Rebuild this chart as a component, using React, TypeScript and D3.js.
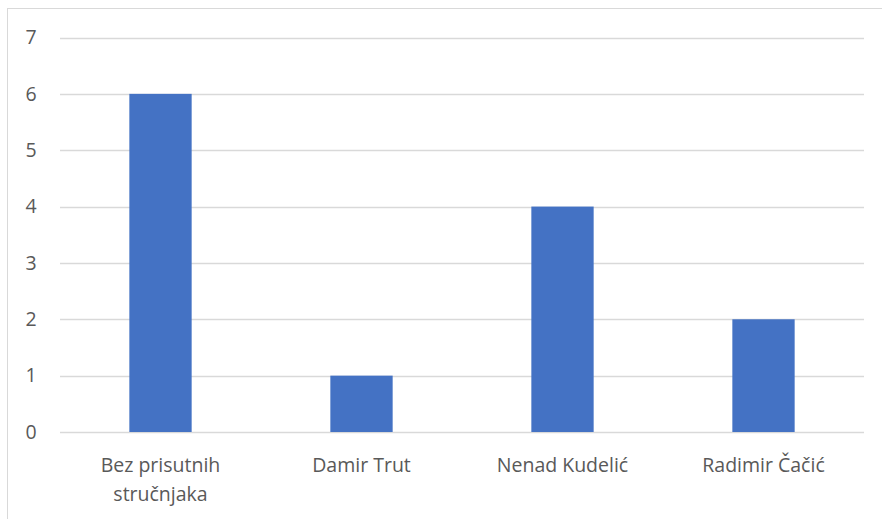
import React, { useEffect, useRef } from "react";
import * as d3 from "d3";

const categories = ["Bez prisutnih stručnjaka", "Damir Trut", "Nenad Kudelić", "Radimir Čačić"];
const categoryLines = [["Bez prisutnih", "stručnjaka"], ["Damir Trut"], ["Nenad Kudelić"], ["Radimir Čačić"]];
const values = [6, 1, 4, 2];
const yTicks = [0, 1, 2, 3, 4, 5, 6, 7];

const App = () => {
  const svgRef = useRef(null);
  const width = 882;
  const height = 519;

  useEffect(() => {
    const svg = d3.select(svgRef.current);
    svg.selectAll("*").remove();

    const margin = { top: 37.5, left: 60, right: 18 };
    const innerBottom = 432;
    const font = "'Open Sans', 'Noto Sans', sans-serif";
    const fontSize = 19.5;

    // chart border
    svg.append("rect")
      .attr("x", 7.5).attr("y", 8.5)
      .attr("width", width).attr("height", height)
      .attr("fill", "white").attr("stroke", "#d9d9d9").attr("stroke-width", 1);

    const x = d3.scaleBand().domain(categories).range([margin.left, width - margin.right]).padding(0);
    const y = d3.scaleLinear().domain([0, 7]).range([innerBottom, margin.top]);

    // gridlines
    svg.append("g").selectAll("line")
      .data(yTicks)
      .join("line")
      .attr("x1", margin.left).attr("x2", width - margin.right)
      .attr("y1", (d) => Math.round(y(d)) + 0.5).attr("y2", (d) => Math.round(y(d)) + 0.5)
      .attr("stroke", "#d9d9d9").attr("stroke-width", 1.3);

    // y labels
    svg.append("g").selectAll("text")
      .data(yTicks)
      .join("text")
      .attr("x", 31).attr("y", (d) => y(d))
      .attr("dy", "0.35em")
      .attr("text-anchor", "middle")
      .attr("font-family", font)
      .attr("font-size", fontSize)
      .attr("fill", "#595959")
      .text((d) => d);

    // bars
    const barW = x.bandwidth() * 0.31;
    svg.append("g").selectAll("rect")
      .data(values)
      .join("rect")
      .attr("x", (d, i) => x(categories[i]) + (x.bandwidth() - barW) / 2)
      .attr("y", (d) => y(d))
      .attr("width", barW)
      .attr("height", (d) => y(0) - y(d))
      .attr("fill", "#4472c4");

    // category labels
    const lab = svg.append("g").selectAll("text")
      .data(categoryLines)
      .join("text")
      .attr("text-anchor", "middle")
      .attr("font-family", font)
      .attr("font-size", fontSize)
      .attr("fill", "#595959");
    lab.each(function (lines, i) {
      const t = d3.select(this);
      lines.forEach((l, j) => {
        t.append("tspan")
          .attr("x", x(categories[i]) + x.bandwidth() / 2)
          .attr("y", 472 + j * 28.5)
          .text(l);
      });
    });
  }, []);

  return (
    <div style={{ position: "absolute", left: 0, top: 0 }}>
      <svg ref={svgRef} width={width} height={height} style={{ display: "block" }}></svg>
    </div>
  );
};

export default App;
